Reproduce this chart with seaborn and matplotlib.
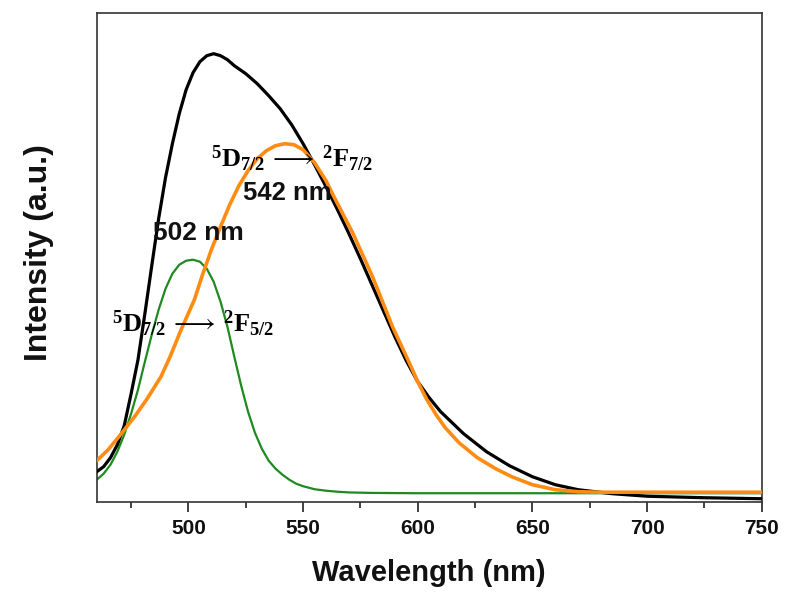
import matplotlib
matplotlib.use("Agg")
import matplotlib.pyplot as plt
import seaborn as sns
import pandas as pd
from matplotlib.ticker import MultipleLocator

# ---- data (arbitrary units) ----
black_wl = [460, 463, 466, 469, 472, 475, 478, 481, 484, 487, 490, 493, 496, 499, 502,
            505, 508, 511, 514, 517, 520, 525, 530, 535, 540, 545, 550, 555, 560, 565,
            570, 575, 580, 585, 590, 595, 600, 605, 610, 620, 630, 640, 650, 660, 670,
            685, 700, 725, 750]
black_int = [30, 35, 44, 57, 76, 108, 142, 188, 236, 283, 324, 358, 388, 412, 429,
             440, 446, 448, 446, 442, 436, 428, 418, 406, 393, 377, 358, 337, 315, 292,
             268, 243, 217, 191, 165, 141, 120, 104, 90, 68, 50, 36, 25, 17, 12,
             8, 5.5, 4, 3]

orange_wl = [460, 465, 470, 476.5, 482, 488, 492, 496.8, 502.6, 506, 510, 514, 518, 522,
             526, 530, 534, 538, 542, 546, 550, 555, 560, 563, 571.6, 580.3, 589, 596.3,
             600, 604, 608, 612, 618, 626, 634, 641, 650, 660, 670, 680, 700, 750]
orange_int = [41, 52, 66, 85, 103, 125, 145, 172, 202, 226, 252, 275, 297, 316,
              331, 343, 351, 356, 358, 357, 352, 339, 321, 307, 269, 225, 175, 139,
              120, 102, 87, 74, 59, 44, 33, 25, 17, 12, 10, 9.5, 9.5, 9.5]

green_wl = [460, 463, 466, 469, 472, 475, 478, 481, 484, 487, 490, 493, 496, 499, 502,
            505, 508, 511, 514, 517, 520, 523, 526, 529, 532, 535, 538, 541, 544, 547,
            550, 555, 560, 565, 570, 580, 600, 650, 700, 750]
green_int = [22, 28, 37, 50, 67, 88, 112, 140, 167, 192, 213, 228, 237, 241, 242,
             240, 233, 220, 200, 175, 145, 116, 90, 69, 53, 41, 33, 27, 22, 18,
             15.5, 12.5, 11, 10, 9.3, 8.8, 8.5, 8.5, 8.5, 8.5]

x_ticks = [500, 550, 600, 650, 700, 750]
peak_labels = ["502 nm", "542 nm"]
transitions = [r"$^{5}\mathrm{D}_{7/2}\,\longrightarrow\,{}^{2}\mathrm{F}_{7/2}$",
               r"$^{5}\mathrm{D}_{7/2}\,\longrightarrow\,{}^{2}\mathrm{F}_{5/2}$"]

# ---- style ----
sns.set_theme(style="white")
plt.rcParams["font.family"] = ["Liberation Sans", "DejaVu Sans"]
plt.rcParams["mathtext.fontset"] = "custom"
plt.rcParams["mathtext.rm"] = "Liberation Serif:bold"
plt.rcParams["mathtext.it"] = "Liberation Serif:bold"
plt.rcParams["mathtext.bf"] = "Liberation Serif:bold"

fig = plt.figure(figsize=(8, 6.1), dpi=100)
ax = fig.add_axes([0.1209, 0.1775, 0.8312, 0.8017])

df_b = pd.DataFrame({"wl": black_wl, "I": black_int})
df_o = pd.DataFrame({"wl": orange_wl, "I": orange_int})
df_g = pd.DataFrame({"wl": green_wl, "I": green_int})

sns.lineplot(data=df_g, x="wl", y="I", color="#1f8a1f", linewidth=1.6, ax=ax, zorder=2)
sns.lineplot(data=df_b, x="wl", y="I", color="black", linewidth=2.3, ax=ax, zorder=3)
sns.lineplot(data=df_o, x="wl", y="I", color="#ff8c12", linewidth=2.6, ax=ax, zorder=4)

ax.set_xlim(460, 750)
ax.set_ylim(0, 489)
ax.set_xticks(x_ticks)
ax.xaxis.set_minor_locator(MultipleLocator(25))
ax.set_yticks([])
ax.tick_params(axis="x", which="major", direction="out", length=7.5, width=1.2,
               color="#222222", labelsize=15, pad=5, bottom=True, top=False)
ax.tick_params(axis="x", which="minor", direction="out", length=4, width=1.2,
               color="#222222", bottom=True, top=False)
for lab in ax.get_xticklabels():
    lab.set_fontweight("bold")
    lab.set_color("#111111")
for sp in ax.spines.values():
    sp.set_visible(True)
    sp.set_color("#333333")
    sp.set_linewidth(1.2)

ax.set_xlabel("Wavelength (nm)", fontsize=21, fontweight="bold", color="#111111", labelpad=15)
ax.set_ylabel("Intensity (a.u.)", fontsize=23, fontweight="bold", color="#111111")
ax.yaxis.set_label_coords(-0.064, 0.51)

# annotations
ax.text(484.6, 269, peak_labels[0], fontsize=19, fontweight="bold", ha="left", va="center",
        color="#111111", zorder=6)
ax.text(523.8, 309, peak_labels[1], fontsize=18.5, fontweight="bold", ha="left", va="center",
        color="#111111", zorder=6)
ax.text(509.9, 334, transitions[0], fontsize=19, ha="left", va="baseline", color="black", zorder=6)
ax.text(466.5, 169, transitions[1], fontsize=19, ha="left", va="baseline", color="black", zorder=6)

fig.savefig("out.png", dpi=100, facecolor="white")
